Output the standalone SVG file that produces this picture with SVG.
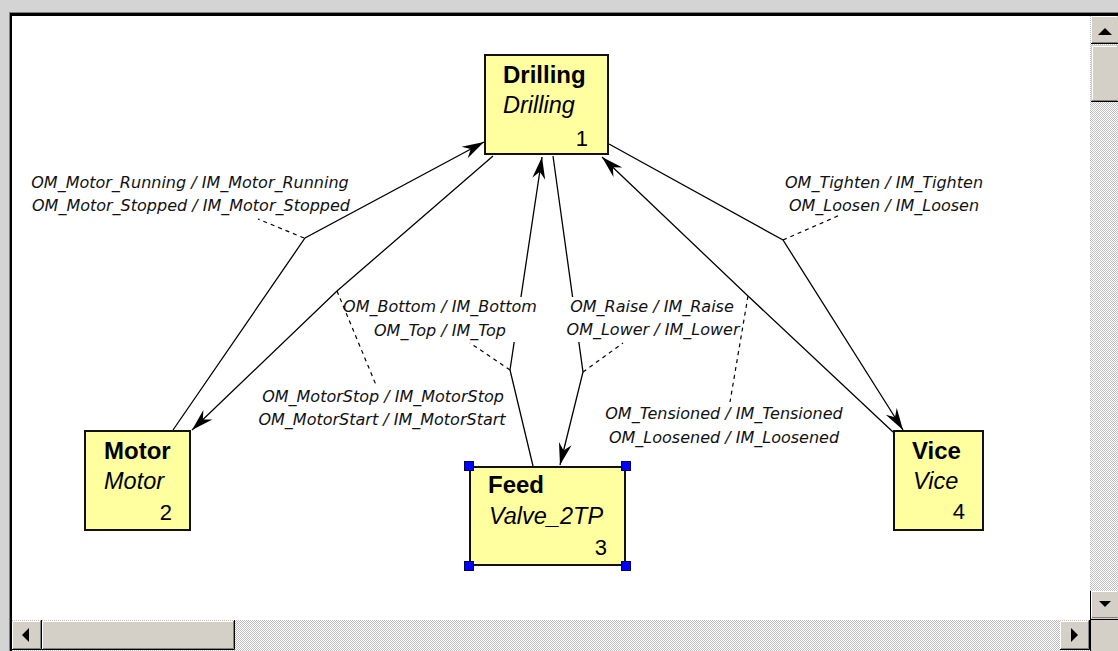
<svg xmlns="http://www.w3.org/2000/svg" width="1118" height="651" viewBox="0 0 1118 651">
  <defs>
    <!-- scrollbar track -->
    <pattern id="track" width="2" height="2" patternUnits="userSpaceOnUse">
      <rect width="2" height="2" fill="#ffffff"/>
      <rect x="0" y="0" width="1" height="1" fill="#c0c0c0"/>
      <rect x="1" y="1" width="1" height="1" fill="#c0c0c0"/>
    </pattern>
    <marker id="arrow" viewBox="-23 -7 24 14" refX="0" refY="0" markerWidth="24" markerHeight="14" orient="auto" markerUnits="userSpaceOnUse">
      <path d="M0,0 L-22,-6.5 L-15,0 L-22,6.5 Z" fill="#000"/>
    </marker>
    <style>
      .edge { fill: none; stroke: #000; stroke-width: 1.3; marker-end: url(#arrow); }
      .leader { fill: none; stroke: #000; stroke-width: 1.2; stroke-dasharray: 4 4; }
      .box { fill: #ffffa0; stroke: #111; stroke-width: 2; }
      .title { font-family: "Liberation Sans", Arial, sans-serif; font-weight: bold; font-size: 24px; fill: #000; }
      .kind { font-family: "Liberation Sans", Arial, sans-serif; font-style: italic; font-size: 23.5px; fill: #000; }
      .num { font-family: "Liberation Sans", Arial, sans-serif; font-size: 22px; text-anchor: end; fill: #000; }
      .lbl { font-family: "DejaVu Sans", "Liberation Sans", sans-serif; font-style: oblique; font-size: 16px; text-anchor: middle; fill: #111; }
      .lblbg { fill: #ffffff; }
      .handle { fill: #0000ff; stroke: #000060; stroke-width: 1; }
      .face { fill: #d4d0c8; }
      .hi { fill: none; stroke: #ffffff; stroke-width: 1; }
      .sh { fill: none; stroke: #808080; stroke-width: 1; }
      .dk { fill: none; stroke: #000000; stroke-width: 1; }
    </style>
  </defs>

  <!-- window frame -->
  <g id="window">
    <rect x="0" y="0" width="1118" height="651" fill="#d4d4d4"/>
    <rect x="9" y="12" width="1109" height="639" fill="#808080"/>
    <rect x="10" y="13" width="1108" height="638" fill="#000000"/>
    <rect x="12" y="16" width="1078" height="604" fill="#ffffff"/>
  </g>

  <!-- scrollbars -->
  <g id="scrollbars">
    <rect x="1090" y="16" width="28" height="604" fill="url(#track)"/>
    <rect x="12" y="620" width="1078" height="31" fill="url(#track)"/>
    <rect x="1090" y="620" width="28" height="31" class="face"/>

    <!-- up button -->
    <rect x="1091" y="16" width="27" height="28" class="face"/>
    <path class="hi" d="M1091.5,43 V16.5 H1117"/>
    <path class="sh" d="M1092,42.5 H1117.5"/>
    <path class="dk" d="M1091,43.5 H1118"/>
    <path d="M1098,35 L1112,35 L1105,28 Z" fill="#000"/>

    <!-- vertical thumb -->
    <rect x="1091" y="45" width="27" height="57" class="face"/>
    <path class="hi" d="M1092.5,101 V46.5 H1117"/>
    <path class="sh" d="M1092,100.5 H1117.5"/>
    <path class="dk" d="M1091,101.5 H1118"/>

    <!-- down button -->
    <rect x="1091" y="591" width="27" height="28" class="face"/>
    <path class="hi" d="M1091.5,618 V591.5 H1117"/>
    <path class="sh" d="M1092,617.5 H1117.5"/>
    <path class="dk" d="M1090.5,619.5 H1118 M1090.5,591 V651"/>
    <path d="M1099,601 L1111,601 L1105,607 Z" fill="#000"/>

    <!-- left button -->
    <rect x="12" y="621" width="29" height="29" class="face"/>
    <path class="hi" d="M12.5,649 V621.5 H40"/>
    <path class="sh" d="M13,648.5 H40.5 V621"/>
    <path class="dk" d="M12,649.5 H41.5 V620"/>
    <path d="M29,628 L29,642 L22,635 Z" fill="#000"/>

    <!-- horizontal thumb -->
    <rect x="42" y="621" width="192" height="29" class="face"/>
    <path class="hi" d="M42.5,649 V621.5 H233"/>
    <path class="sh" d="M43,648.5 H233.5 V621"/>
    <path class="dk" d="M42,649.5 H234.5 V620"/>

    <!-- right button -->
    <rect x="1060" y="621" width="29" height="29" class="face"/>
    <path class="hi" d="M1060.5,649 V621.5 H1088"/>
    <path class="sh" d="M1061,648.5 H1088.5 V621"/>
    <path class="dk" d="M1060,649.5 H1089.5 V620"/>
    <path d="M1071,628 L1071,642 L1078,635 Z" fill="#000"/>
  </g>

  <!-- transitions -->
  <g id="connectors">
    <path class="edge" d="M173,430 L305,238 L484,142"/>
    <path class="edge" d="M493,156 L337,291 L192,430"/>
    <path class="edge" d="M533,466 L510,370 L542,157"/>
    <path class="edge" d="M553,156 L583,372 L560,465"/>
    <path class="edge" d="M609,144 L783,240 L903,430"/>
    <path class="edge" d="M893,432 L748,296 L602,157"/>

    <!-- label backgrounds that mask lines running underneath -->
    <rect class="lblbg" x="343" y="297" width="195" height="45"/>
    <rect class="lblbg" x="562" y="297" width="182" height="45"/>

    <!-- leader lines from bend points to labels -->
    <path class="leader" d="M304,238 L258,219"/>
    <path class="leader" d="M337,291 L376,385"/>
    <path class="leader" d="M510,370 L470,343"/>
    <path class="leader" d="M583,372 L623,343"/>
    <path class="leader" d="M783,240 L840,215"/>
    <path class="leader" d="M748,296 L730,402"/>
  </g>

  <!-- transition labels -->
  <g id="labels">
    <text class="lbl" x="190" y="188">OM_Motor_Running / IM_Motor_Running</text>
    <text class="lbl" x="191" y="211">OM_Motor_Stopped / IM_Motor_Stopped</text>
    <text class="lbl" x="884" y="188">OM_Tighten / IM_Tighten</text>
    <text class="lbl" x="884" y="211">OM_Loosen / IM_Loosen</text>
    <text class="lbl" x="440" y="312">OM_Bottom / IM_Bottom</text>
    <text class="lbl" x="440" y="336">OM_Top / IM_Top</text>
    <text class="lbl" x="652" y="312">OM_Raise / IM_Raise</text>
    <text class="lbl" x="653" y="335">OM_Lower / IM_Lower</text>
    <text class="lbl" x="383" y="402">OM_MotorStop / IM_MotorStop</text>
    <text class="lbl" x="382" y="425">OM_MotorStart / IM_MotorStart</text>
    <text class="lbl" x="724" y="419">OM_Tensioned / IM_Tensioned</text>
    <text class="lbl" x="724" y="443">OM_Loosened / IM_Loosened</text>
  </g>

  <g id="node-drilling">
    <rect class="box" x="485" y="55" width="123" height="99"/>
    <text class="title" x="503" y="83">Drilling</text>
    <text class="kind" x="503" y="113">Drilling</text>
    <text class="num" x="588" y="146">1</text>
  </g>

  <g id="node-motor">
    <rect class="box" x="85" y="431" width="105" height="99"/>
    <text class="title" x="104" y="459">Motor</text>
    <text class="kind" x="104" y="489">Motor</text>
    <text class="num" x="172" y="520">2</text>
  </g>

  <g id="node-feed">
    <rect class="box" x="470" y="467" width="155" height="98"/>
    <text class="title" x="488" y="493">Feed</text>
    <text class="kind" x="489" y="524">Valve_2TP</text>
    <text class="num" x="607" y="555">3</text>
    <rect class="handle" x="464.5" y="461.5" width="9" height="9"/>
    <rect class="handle" x="621.5" y="461.5" width="9" height="9"/>
    <rect class="handle" x="464.5" y="561.5" width="9" height="9"/>
    <rect class="handle" x="621.5" y="561.5" width="9" height="9"/>
  </g>

  <g id="node-vice">
    <rect class="box" x="894" y="431" width="89" height="99"/>
    <text class="title" x="912" y="459">Vice</text>
    <text class="kind" x="913" y="489">Vice</text>
    <text class="num" x="965" y="519">4</text>
  </g>
</svg>
